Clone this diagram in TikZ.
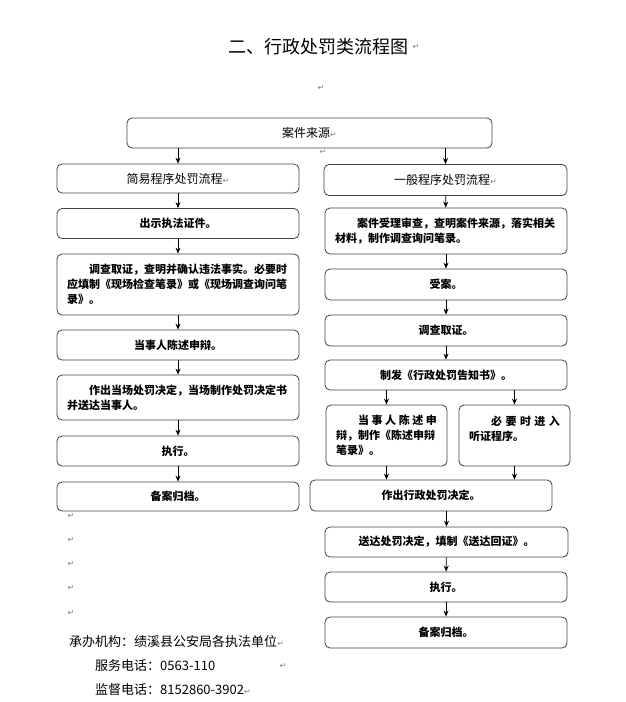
\documentclass[tikz,border=0pt]{standalone}
\usepackage{fontspec}
\setmainfont{Noto Sans CJK SC}
\newfontfamily\markfont{DejaVu Sans}
\usetikzlibrary{arrows.meta,positioning}
\newcommand\pret{\textcolor{gray}{\markfont\fontsize{8}{8}\selectfont↵}}
\tikzset{box/.style={draw=black!75,rounded corners=5pt,line width=0.8pt,minimum width=242pt,minimum height=30pt,inner sep=2pt,font=\fontsize{11}{15}\selectfont\bfseries},
  head/.style={box,font=\fontsize{12}{15}\selectfont},
  para/.style={box,align=left,text width=222pt},
  arr/.style={-{Stealth[length=6pt,width=5pt]},line width=0.8pt},
  pmark/.style={gray,font=\markfont\fontsize{8}{8}\selectfont,inner sep=0pt},
  foot/.style={anchor=west,inner sep=0pt,font=\fontsize{13}{13}\selectfont}}

\begin{document}
\begin{tikzpicture}[x=1pt,y=-1pt]
\useasboundingbox (0,0) rectangle (625,702);
\node[font=\fontsize{18}{18}\selectfont] (title) at (318,47) {二、行政处罚类流程图};
\node[pmark,right=1pt of title] (m0) {↵};
\node[pmark] (m1) at (321,88) {↵};
% top
\node[head,minimum width=365pt] (src) at (309.5,133) {案件来源\pret};
\node[pmark] (m2) at (323,152) {↵};
\node[head,minimum height=29pt] (easy) at (178,178.5) {简易程序处罚流程\pret};
\node[head,minimum width=243pt,minimum height=31pt] (gen) at (445.5,180) {一般程序处罚流程\pret};
% simple procedure
\node[box] (e1) at (178,223.5) {出示执法证件。};
\node[para,minimum height=61pt] (e2) at (178,284.5) {\hspace*{2em}调查取证，查明并确认违法事实。必要时\\应填制《现场检查笔录》或《现场调查询问笔\\录》。};
\node[box] (e3) at (178,345) {当事人陈述申辩。};
\node[para,minimum height=45pt] (e4) at (178,397.5) {\hspace*{2em}作出当场处罚决定，当场制作处罚决定书\\并送达当事人。};
\node[box] (e5) at (178,451) {执行。};
\node[box,minimum height=29pt] (e6) at (178,496.5) {备案归档。};
% general procedure
\node[para,minimum height=46pt] (g1) at (446,231) {\hspace*{2em}案件受理审查，查明案件来源，落实相关\\材料，制作调查询问笔录。};
\node[box,minimum height=31pt] (g2) at (446,284.5) {受案。};
\node[box,minimum height=31pt] (g3) at (446,330.5) {调查取证。};
\node[box] (g4) at (446,375) {制发《行政处罚告知书》。};
\node[box,align=left,minimum width=121pt,text width=101pt,minimum height=61pt] (g5a) at (386.5,435.5) {\hspace*{2em}当\hfill 事\hfill 人\hfill 陈\hfill 述\hfill 申\\辩，制作《陈述申辩\\笔录》。};
\node[box,align=left,minimum width=111pt,text width=91pt,minimum height=61pt] (g5b) at (514.5,435.5) {\hspace*{2em}必\hfill 要\hfill 时\hfill 进\hfill 入\\听证程序。\\~};
\node[box,minimum height=31pt] (g6) at (431,495.5) {作出行政处罚决定。};
\node[box,minimum width=243pt] (g7) at (446.5,542) {送达处罚决定，填制《送达回证》。};
\node[box] (g8) at (446,587) {执行。};
\node[box,minimum height=31pt] (g9) at (446,632.5) {备案归档。};
% connectors
\draw[arr] (easy.north |- src.south) -- (easy.north);
\draw[arr] (gen.north |- src.south) -- (gen.north);
\draw[arr] (easy) -- (e1);
\draw[arr] (e1) -- (e2);
\draw[arr] (e2) -- (e3);
\draw[arr] (e3) -- (e4);
\draw[arr] (e4) -- (e5);
\draw[arr] (e5) -- (e6);
\draw[arr] (gen) -- (g1);
\draw[arr] (g1) -- (g2);
\draw[arr] (g2) -- (g3);
\draw[arr] (g3) -- (g4);
\draw[arr] (g5a.north |- g4.south) -- (g5a.north);
\draw[arr] (g5b.north |- g4.south) -- (g5b.north);
\draw[arr] (g5a.south) -- (g5a.south |- g6.north);
\draw[arr] (g5b.south) -- (g5b.south |- g6.north);
\draw[arr] (g7.north |- g6.south) -- (g7.north);
\draw[arr] (g7) -- (g8);
\draw[arr] (g8) -- (g9);
% blank lines and footer
\foreach \y [count=\i] in {516,540,564,588,613}
  \node[pmark] (b\i) at (71,\y) {↵};
\node[foot] (org) at (69,642) {承办机构：绩溪县公安局各执法单位\pret};
\node[foot] (tel1) at (95,666) {服务电话：0563-110};
\node[pmark] (m3) at (283,666) {↵};
\node[foot] (tel2) at (95,690) {监督电话：8152860-3902\pret};
\end{tikzpicture}
\end{document}
